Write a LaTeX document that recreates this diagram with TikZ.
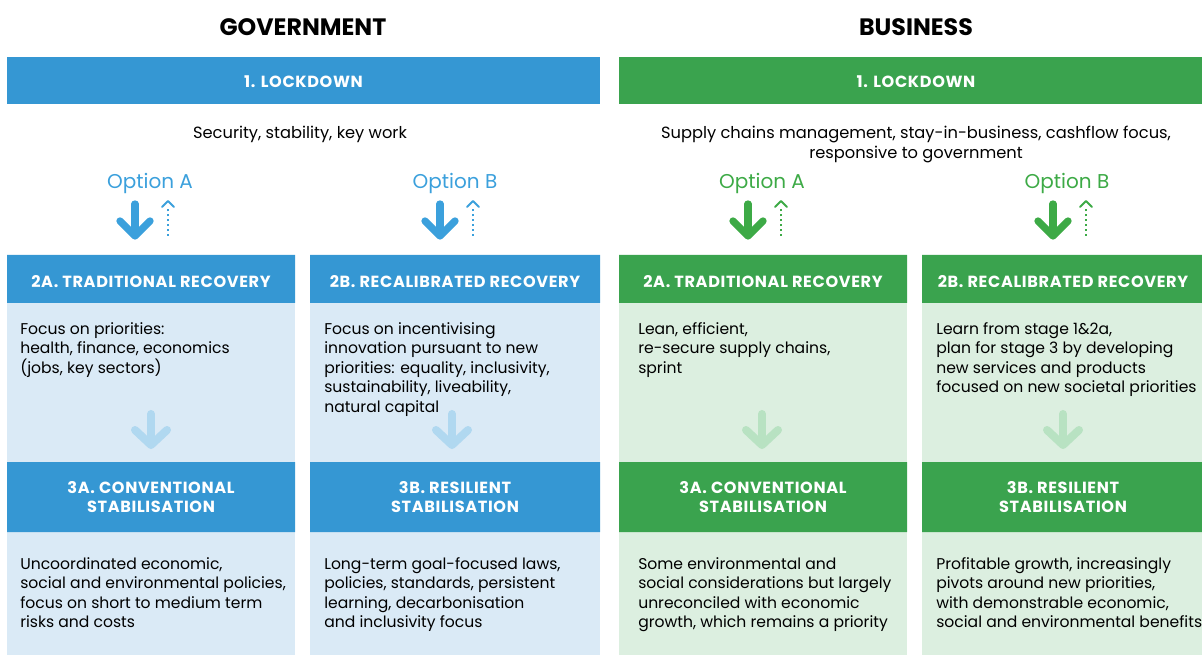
\documentclass[tikz,border=0pt]{standalone}
\usepackage{fontspec}
\setmainfont{Poppins}
\definecolor{govdark}{HTML}{3597D3}
\definecolor{govlight}{HTML}{DAEAF6}
\definecolor{govarrow}{HTML}{B0D8F0}
\definecolor{bizdark}{HTML}{3AA34E}
\definecolor{bizlight}{HTML}{DCEFE0}
\definecolor{bizarrow}{HTML}{B8E2C2}
\definecolor{govopt}{HTML}{3BA0DC}
\definecolor{bizopt}{HTML}{3DAA46}
\begin{document}
\begin{tikzpicture}[x=0.75pt, y=-0.75pt, line join=round, line cap=round,
  title/.style={font=\fontsize{17.8}{20}\selectfont\bfseries, text=black},
  head/.style={font=\fontsize{12.1}{14.25}\selectfont\bfseries\addfontfeatures{LetterSpace=4}, text=white, align=center},
  sub/.style={font=\fontsize{12.2}{15}\selectfont, align=center},
  opt/.style={font=\fontsize{15}{17}\selectfont},
  body/.style={font=\fontsize{11.7}{14.6}\selectfont, align=left, anchor=north west, inner sep=0pt},
  bigarrow/.style={line width=5.5pt},
  dotarrow/.style={line width=1.5pt},
  dots/.style={line width=1.5pt, line cap=butt, dash pattern=on 1.5pt off 2.2pt},
  smallarrow/.style={line width=6pt}]
\useasboundingbox (0,0) rectangle (1202,655);
%\draw[gray!10] (0,0) grid[step=50] (1202,655);

% titles and lockdown bars
\node[title] (govtitle) at (303,27) {GOVERNMENT};
\node[title] (biztitle) at (916,27) {BUSINESS};
\fill[govdark] (7,57) rectangle (600,104);
\fill[bizdark] (619,57) rectangle (1202,104);
\node[head] (govlock) at (303.5,81.5) {1. LOCKDOWN};
\node[head] (bizlock) at (916,81.5) {1. LOCKDOWN};
\node[sub] (govsub) at (300,134) {Security, stability, key work};
\node[sub] (bizsub) at (916,144) {Supply chains management, stay-in-business, cashflow focus,\\responsive to government};

% option labels
\node[opt, text=govopt] (govA) at (150,183) {Option A};
\node[opt, text=govopt] (govB) at (455,183) {Option B};
\node[opt, text=bizopt] (bizA) at (762,183) {Option A};
\node[opt, text=bizopt] (bizB) at (1067,183) {Option B};

% column backgrounds and headers
\fill[govlight] (7,255) rectangle (295,655);
\fill[govlight] (310,255) rectangle (600,655);
\fill[bizlight] (619,255) rectangle (907,655);
\fill[bizlight] (922,255) rectangle (1202,655);
\fill[govdark] (7,255) rectangle (295,303) (7,462) rectangle (295,532);
\fill[govdark] (310,255) rectangle (600,303) (310,462) rectangle (600,532);
\fill[bizdark] (619,255) rectangle (907,303) (619,462) rectangle (907,532);
\fill[bizdark] (922,255) rectangle (1202,303) (922,462) rectangle (1202,532);

\node[head] (govtwoA) at (151,281.5) {2A. TRADITIONAL RECOVERY};
\node[head] (govtwoB) at (455,281.5) {2B. RECALIBRATED RECOVERY};
\node[head] (biztwoA) at (763,281.5) {2A. TRADITIONAL RECOVERY};
\node[head] (biztwoB) at (1063,281.5) {2B. RECALIBRATED RECOVERY};
\node[head] (govthreeA) at (151,497.5) {3A. CONVENTIONAL\\STABILISATION};
\node[head] (govthreeB) at (455,497.5) {3B. RESILIENT\\STABILISATION};
\node[head] (bizthreeA) at (763,497.5) {3A. CONVENTIONAL\\STABILISATION};
\node[head] (bizthreeB) at (1063,497.5) {3B. RESILIENT\\STABILISATION};

% body texts
\node[body] (govtextA) at (20,322) {Focus on priorities:\\health, finance, economics\\(jobs, key sectors)};
\node[body] (govtextB) at (324,322) {Focus on incentivising\\innovation pursuant to new\\priorities: equality, inclusivity,\\sustainability, liveability,\\natural capital};
\node[body] (biztextA) at (638,322) {Lean, efficient,\\re-secure supply chains,\\sprint};
\node[body] (biztextB) at (936,322) {Learn from stage 1\&2a,\\plan for stage 3 by developing\\new services and products\\focused on new societal priorities};
\node[body] (govendA) at (20,557) {Uncoordinated economic,\\social and environmental policies,\\focus on short to medium term\\risks and costs};
\node[body] (govendB) at (324,557) {Long-term goal-focused laws,\\policies, standards, persistent\\learning, decarbonisation\\and inclusivity focus};
\node[body] (bizendA) at (638,557) {Some environmental and\\social considerations but largely\\unreconciled with economic\\growth, which remains a priority};
\node[body] (bizendB) at (936,557) {Profitable growth, increasingly\\pivots around new priorities,\\with demonstrable economic,\\social and environmental benefits};

% option arrows
\foreach \c/\col in {135/govopt, 440/govopt, 748/bizopt, 1053/bizopt}{
  \draw[bigarrow, \col] (\c,204) -- (\c,235);
  \draw[bigarrow, \col] (\c-15,221) -- (\c,236) -- (\c+15,221);
  \draw[dots, \col] (\c+33,236) -- (\c+33,207);
  \draw[dotarrow, \col] (\c+27,207) -- (\c+33,201) -- (\c+39,207);
}

% arrows between stages
\foreach \c/\col in {151/govarrow, 452/govarrow, 762/bizarrow, 1063/bizarrow}{
  \draw[smallarrow, \col] (\c,414) -- (\c,444);
  \draw[smallarrow, \col] (\c-16,430) -- (\c,445) -- (\c+16,430);
}
\end{tikzpicture}
\end{document}
